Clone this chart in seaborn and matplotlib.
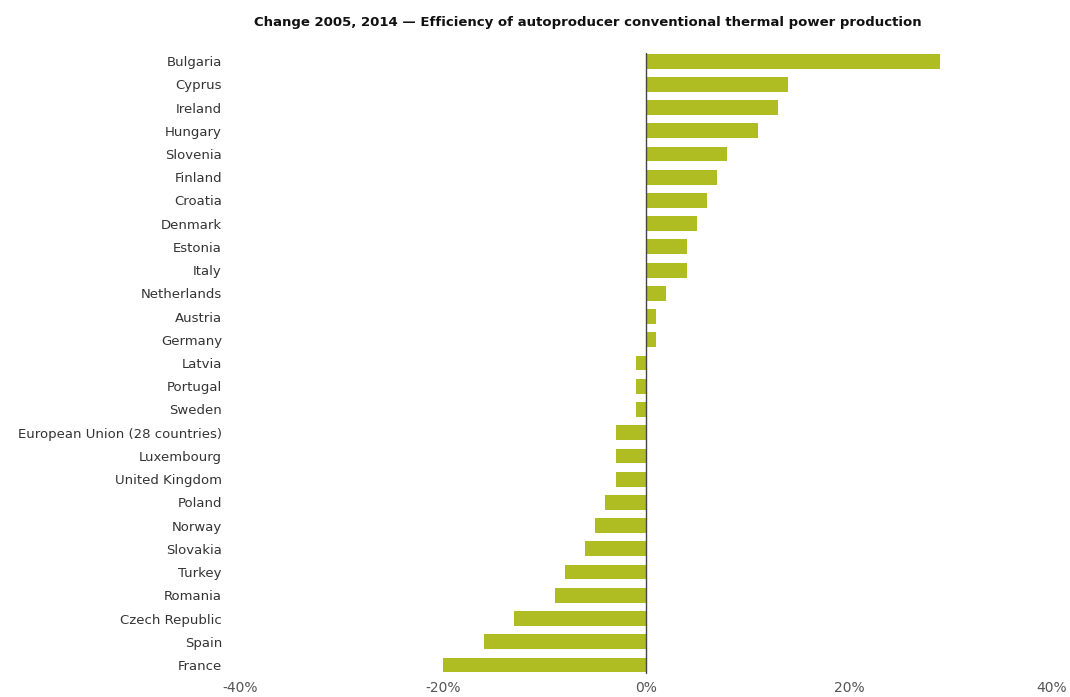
import matplotlib
matplotlib.use("Agg")
import matplotlib.pyplot as plt
import pandas as pd
import seaborn as sns

countries = [
    "Bulgaria", "Cyprus", "Ireland", "Hungary", "Slovenia", "Finland",
    "Croatia", "Denmark", "Estonia", "Italy", "Netherlands", "Austria",
    "Germany", "Latvia", "Portugal", "Sweden", "European Union (28 countries)",
    "Luxembourg", "United Kingdom", "Poland", "Norway", "Slovakia", "Turkey",
    "Romania", "Czech Republic", "Spain", "France",
]
change = [29, 14, 13, 11, 8, 7, 6, 5, 4, 4, 2, 1, 1, -1, -1, -1, -3,
          -3, -3, -4, -5, -6, -8, -9, -13, -16, -20]
x_ticks = [-40, -20, 0, 20, 40]
x_tick_labels = ["-40%", "-20%", "0%", "20%", "40%"]

df = pd.DataFrame({"country": countries, "change": change})

sns.set_style("white")
plt.rcParams["font.family"] = ["DejaVu Sans"]

fig = plt.figure(figsize=(10.7, 6.97), dpi=100)
ax = fig.add_axes([0.2243, 0.0293, 0.7589, 0.8997])

sns.barplot(data=df, x="change", y="country", orient="h", color="#afbd22",
            saturation=1, width=0.64, linewidth=0, ax=ax)

ax.axvline(0, color="#444444", linewidth=1, ymin=0.005, ymax=0.995)
ax.set_xlim(-40, 40)
ax.set_ylim(len(countries) - 0.5, -0.5)
ax.set_xticks(x_ticks)
ax.set_xticklabels(x_tick_labels)
ax.set_xlabel("")
ax.set_ylabel("")
for s in ax.spines.values():
    s.set_visible(False)
ax.tick_params(axis="x", length=0, labelsize=10, labelcolor="#555555", pad=3)
ax.tick_params(axis="y", length=0, labelsize=9.5, labelcolor="#333333", pad=13)

fig.text(0.5495, 0.968,
         "Change 2005, 2014 \u2014 Efficiency of autoproducer conventional thermal power production",
         ha="center", va="center", fontsize=9.5, fontweight="bold", color="#111111")

fig.savefig("out.png", dpi=100)
